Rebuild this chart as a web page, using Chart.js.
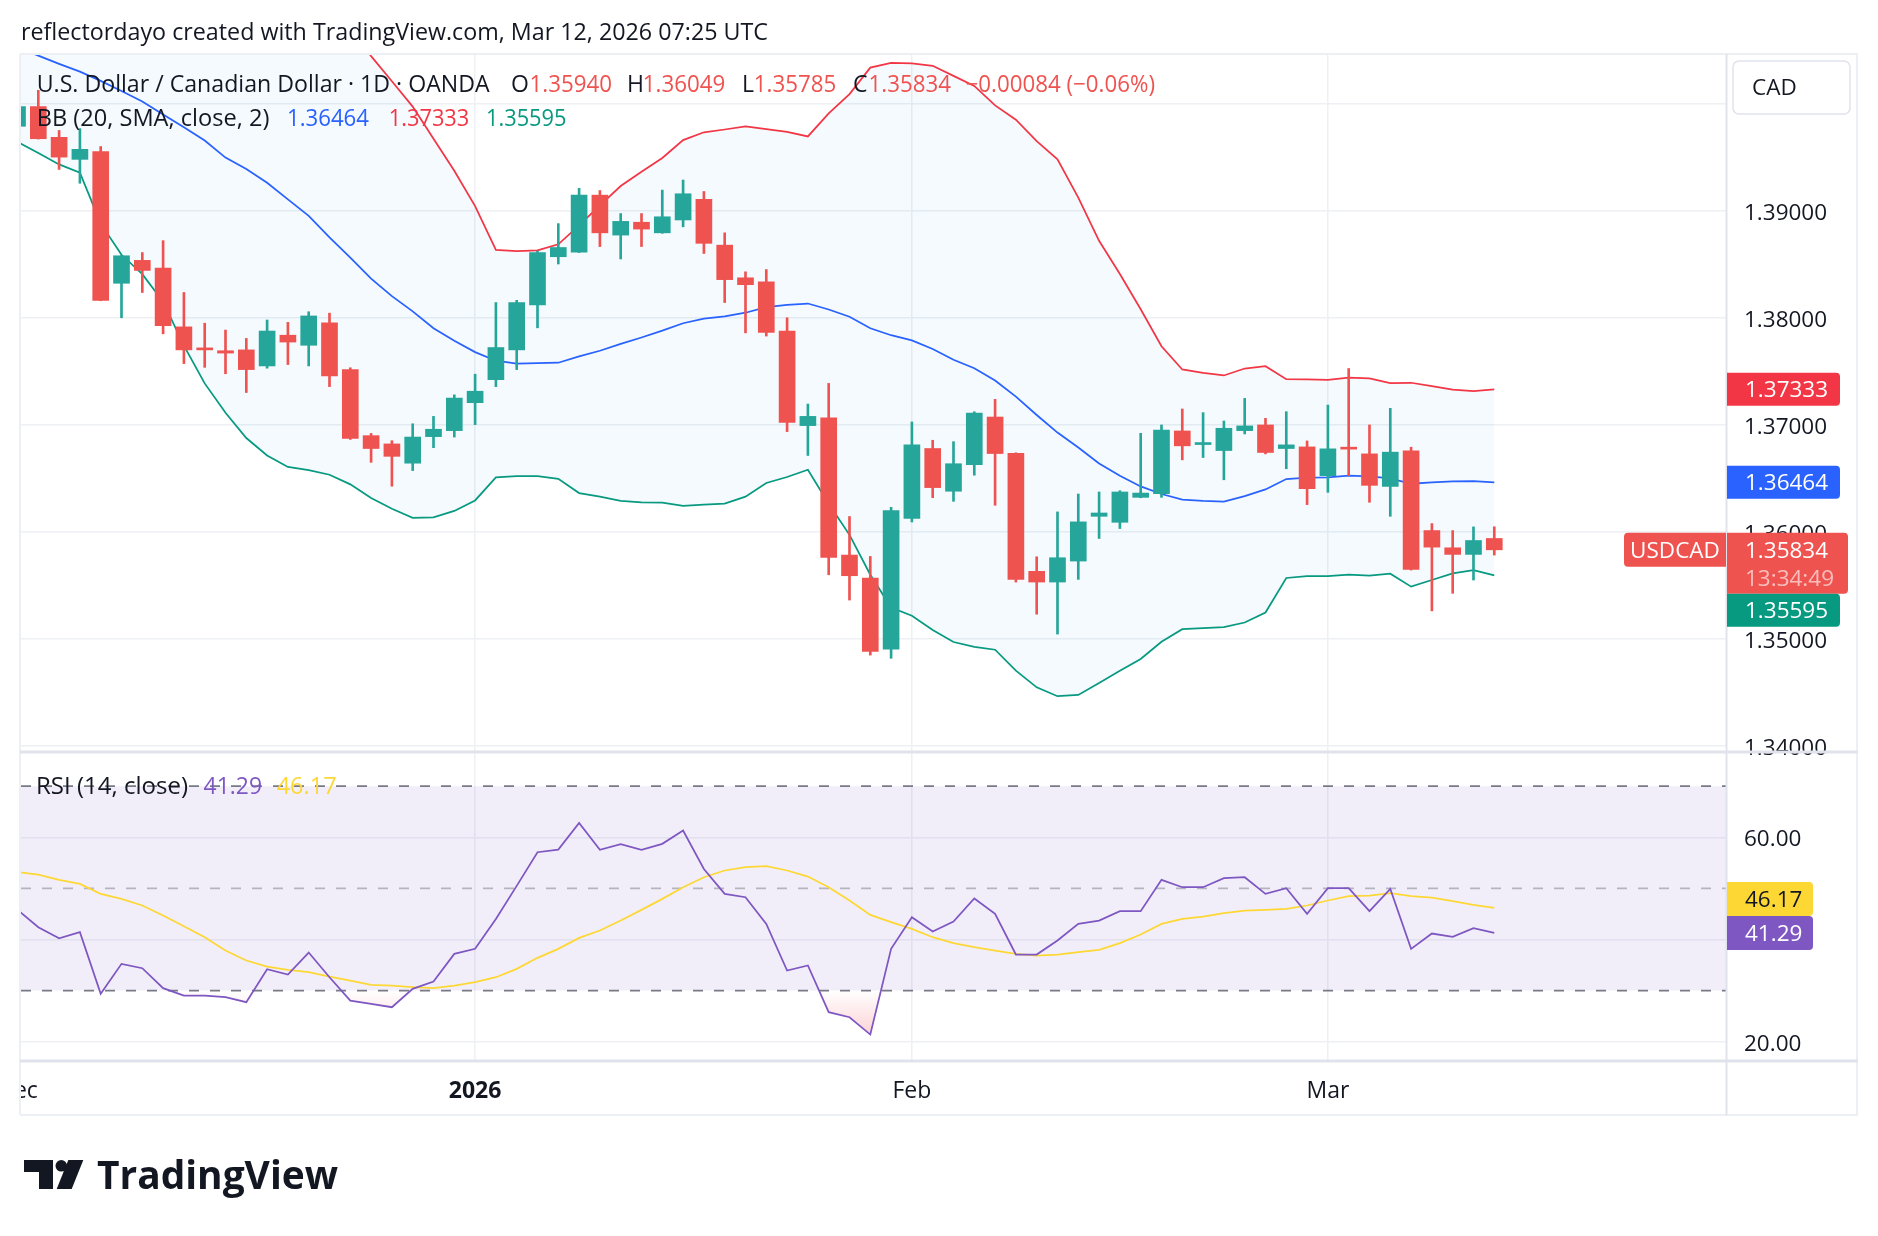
<!DOCTYPE html>
<html>
<head>
<meta charset="utf-8">
<title>USDCAD 1D</title>
<script src="https://cdn.jsdelivr.net/npm/chart.js@4.4.1/dist/chart.umd.min.js"></script>
<style>
  html, body { margin:0; padding:0; background:#ffffff; }
  #wrap { position:relative; width:1878px; height:1236px; overflow:hidden; }
  #c { position:absolute; left:0; top:0; }
  #ov { position:absolute; left:0; top:0; pointer-events:none; }
  #ov text { font-family:'Open Sans', sans-serif; font-size:23px; }
</style>
</head>
<body>
<div id="wrap">
  <canvas id="c" width="1878" height="1236"></canvas>
  <svg id="ov" width="1878" height="1236" viewBox="0 0 1878 1236">
    <text x="21" y="39.5" fill="#131722" textLength="747" lengthAdjust="spacingAndGlyphs">reflectordayo created with TradingView.com, Mar 12, 2026 07:25 UTC</text>

    <text x="36.7" y="92" fill="#131722" textLength="453" lengthAdjust="spacingAndGlyphs">U.S. Dollar / Canadian Dollar · 1D · OANDA</text>
    <text x="511" y="92" fill="#131722">O</text>
    <text x="529.5" y="92" fill="#ef5350" textLength="82.5" lengthAdjust="spacingAndGlyphs">1.35940</text>
    <text x="627" y="92" fill="#131722">H</text>
    <text x="642.8" y="92" fill="#ef5350" textLength="82.5" lengthAdjust="spacingAndGlyphs">1.36049</text>
    <text x="742" y="92" fill="#131722">L</text>
    <text x="753.8" y="92" fill="#ef5350" textLength="82.5" lengthAdjust="spacingAndGlyphs">1.35785</text>
    <text x="853" y="92" fill="#131722">C</text>
    <text x="868.6" y="92" fill="#ef5350" textLength="82.5" lengthAdjust="spacingAndGlyphs">1.35834</text>
    <text x="965.6" y="92" fill="#ef5350" textLength="189.4" lengthAdjust="spacingAndGlyphs">−0.00084 (−0.06%)</text>

    <text x="36.7" y="126" fill="#131722" textLength="232.7" lengthAdjust="spacingAndGlyphs">BB (20, SMA, close, 2)</text>
    <text x="287" y="126" fill="#2962ff" textLength="82" lengthAdjust="spacingAndGlyphs">1.36464</text>
    <text x="388.8" y="126" fill="#f23645" textLength="80.5" lengthAdjust="spacingAndGlyphs">1.37333</text>
    <text x="486" y="126" fill="#089981" textLength="80.5" lengthAdjust="spacingAndGlyphs">1.35595</text>

    <text x="36" y="794" fill="#131722" textLength="152" lengthAdjust="spacingAndGlyphs">RSI (14, close)</text>
    <text x="203.6" y="794" fill="#7e57c2" textLength="58.4" lengthAdjust="spacingAndGlyphs">41.29</text>
    <text x="276.7" y="794" fill="#fdd835" textLength="59.9" lengthAdjust="spacingAndGlyphs">46.17</text>

    <g fill="#131722">
      <path d="M24 1160 H53 V1189 H39 V1172 H24 Z"/>
      <circle cx="61.3" cy="1165.8" r="5.8"/>
      <path d="M68.3 1160 H83.3 L71.7 1189 H56.7 Z"/>
      <text x="97" y="1189" style="font-size:39px;font-weight:700" textLength="241" lengthAdjust="spacingAndGlyphs">TradingView</text>
    </g>
  </svg>
</div>
<script>
// ---------------- data ----------------
const firstIndex = -1; // index of the first (clipped) candle; 0 = first full candle

const opens = [1.39789,1.39973,1.39686,1.39480,1.39553,1.38323,1.38537,1.38464,1.37916,1.37714,1.37693,1.37701,1.37551,1.37838,1.37744,1.37954,1.37517,1.36900,1.36823,1.36643,1.36891,1.36947,1.37208,1.37423,1.37701,1.38121,1.38571,1.38614,1.39146,1.38773,1.38893,1.38794,1.38914,1.39107,1.38679,1.38374,1.38336,1.37877,1.36994,1.37067,1.35785,1.35571,1.34907,1.36128,1.36780,1.36381,1.36630,1.37074,1.36736,1.35633,1.35533,1.35729,1.36147,1.36091,1.36324,1.36358,1.36944,1.36817,1.36761,1.36947,1.37000,1.36780,1.36795,1.36526,1.36783,1.36730,1.36426,1.36758,1.36014,1.35853,1.35791,1.35940];
const highs = [1.40020,1.40125,1.39750,1.39767,1.39600,1.38585,1.38610,1.38721,1.38237,1.37950,1.37886,1.37808,1.37980,1.37958,1.38057,1.38044,1.37534,1.36921,1.36853,1.37011,1.37080,1.37281,1.37474,1.38143,1.38164,1.38623,1.38880,1.39210,1.39189,1.38974,1.38974,1.39193,1.39287,1.39180,1.38794,1.38430,1.38451,1.38001,1.37195,1.37388,1.36145,1.35772,1.36231,1.37028,1.36857,1.36844,1.37123,1.37239,1.36740,1.35769,1.36188,1.36355,1.36374,1.36386,1.36922,1.37000,1.37149,1.37115,1.37037,1.37248,1.37062,1.37124,1.36851,1.37186,1.37527,1.37000,1.37155,1.36792,1.36079,1.36014,1.36048,1.36049];
const lows = [1.39750,1.39670,1.39386,1.39257,1.38160,1.38001,1.38237,1.37851,1.37573,1.37538,1.37478,1.37303,1.37530,1.37564,1.37551,1.37358,1.36865,1.36651,1.36428,1.36574,1.36788,1.36887,1.37003,1.37358,1.37517,1.37907,1.38503,1.38610,1.38666,1.38550,1.38666,1.38790,1.38850,1.38601,1.38143,1.37860,1.37830,1.36938,1.36715,1.35601,1.35365,1.34851,1.34821,1.36094,1.36321,1.36287,1.36531,1.36250,1.35533,1.35233,1.35047,1.35558,1.35940,1.36033,1.36320,1.36324,1.36674,1.36696,1.36488,1.36916,1.36730,1.36591,1.36256,1.36371,1.36526,1.36278,1.36147,1.35645,1.35264,1.35428,1.35552,1.35785];
const closes = [1.39973,1.39673,1.39501,1.39574,1.38164,1.38580,1.38443,1.37928,1.37701,1.37701,1.37671,1.37517,1.37877,1.37774,1.38018,1.37457,1.36874,1.36780,1.36707,1.36887,1.36960,1.37251,1.37315,1.37723,1.38143,1.38610,1.38657,1.39146,1.38794,1.38901,1.38829,1.38944,1.39159,1.38696,1.38357,1.38310,1.37864,1.37024,1.37080,1.35764,1.35592,1.34885,1.36201,1.36814,1.36415,1.36638,1.37110,1.36733,1.35558,1.35533,1.35760,1.36095,1.36178,1.36374,1.36364,1.36953,1.36805,1.36829,1.36969,1.36991,1.36743,1.36814,1.36405,1.36777,1.36774,1.36436,1.36746,1.35651,1.35859,1.35791,1.35921,1.35834];

const bbUpper = [1.4180,1.4178,1.4175,1.4172,1.4170,1.4168,1.4165,1.4160,1.4155,1.4150,1.4143,1.4135,1.4125,1.4115,1.4100,1.4088,1.4072,1.40444,1.40209,1.39973,1.39673,1.39373,1.39043,1.38634,1.38623,1.38631,1.38687,1.38863,1.39051,1.39231,1.39364,1.39493,1.39660,1.39733,1.39759,1.39789,1.39763,1.39737,1.39694,1.39909,1.40089,1.40337,1.40380,1.40376,1.40354,1.40260,1.40166,1.39984,1.39850,1.39650,1.39480,1.39123,1.38720,1.38410,1.38080,1.37735,1.37518,1.37487,1.37462,1.37527,1.37549,1.37428,1.37425,1.37422,1.37443,1.37434,1.37391,1.37394,1.37363,1.37329,1.37316,1.37333];
const bbBasis = [1.40526,1.40449,1.40372,1.40299,1.40213,1.40119,1.40020,1.39900,1.39780,1.39656,1.39497,1.39390,1.39261,1.39107,1.38953,1.38751,1.38563,1.38366,1.38203,1.38061,1.37903,1.37787,1.37680,1.37600,1.37573,1.37577,1.37581,1.37641,1.37693,1.37757,1.37817,1.37881,1.37950,1.37993,1.38014,1.38048,1.38100,1.38121,1.38134,1.38078,1.38010,1.37903,1.37838,1.37790,1.37710,1.37609,1.37530,1.37415,1.37264,1.37093,1.36929,1.36789,1.36640,1.36526,1.36426,1.36355,1.36302,1.36290,1.36284,1.36336,1.36398,1.36495,1.36507,1.36510,1.36526,1.36519,1.36501,1.36451,1.36464,1.36473,1.36476,1.36464];
const bbLower = [1.39643,1.39540,1.39433,1.39356,1.38880,1.38589,1.38408,1.38151,1.37740,1.37388,1.37114,1.36878,1.36715,1.36608,1.36578,1.36535,1.36445,1.36317,1.36218,1.36132,1.36137,1.36197,1.36295,1.36510,1.36522,1.36522,1.36497,1.36364,1.36330,1.36291,1.36278,1.36274,1.36244,1.36257,1.36265,1.36330,1.36458,1.36514,1.36582,1.36265,1.35974,1.35601,1.35295,1.35219,1.35085,1.34973,1.34927,1.34901,1.34705,1.34550,1.34467,1.34479,1.34591,1.34705,1.34814,1.34975,1.35093,1.35102,1.35112,1.35155,1.35248,1.35571,1.35589,1.35589,1.35602,1.35592,1.35611,1.35490,1.35552,1.35614,1.35645,1.35595];

const rsi = [45.8,42.4,40.25,41.43,29.36,35.23,34.38,30.47,29.03,29.03,28.71,27.73,34.19,33.14,37.45,32.62,28.05,27.40,26.75,30.34,31.77,37.19,38.17,44.0,50.5,57.08,57.6,62.82,57.54,58.65,57.54,58.72,61.32,53.8,48.93,48.28,43.06,33.93,34.91,25.77,24.79,21.40,38.17,44.37,41.56,43.52,48.02,45.02,37.06,37.06,39.80,43.06,43.71,45.54,45.54,51.67,50.23,50.23,52.0,52.19,48.93,50.04,45.02,50.04,50.04,45.54,49.91,38.17,41.17,40.52,42.21,41.29];
const rsiMA = [53.17,52.71,51.67,50.89,48.93,47.95,46.65,44.69,42.60,40.45,37.84,35.88,34.71,34.06,33.60,32.75,31.97,31.12,30.99,30.67,30.47,30.99,31.64,32.62,34.25,36.41,38.17,40.32,41.76,43.71,45.80,47.95,50.23,52.19,53.50,54.15,54.34,53.50,52.32,50.23,47.63,44.82,43.39,42.08,40.45,39.28,38.49,37.84,37.19,36.86,37.06,37.51,37.97,39.28,40.97,43.06,44.04,44.49,45.15,45.67,45.80,45.99,46.65,47.63,48.47,48.60,49.06,48.47,48.21,47.50,46.78,46.17];

const rsiLevels = [70, 50, 30];
const priceTicks = [1.34, 1.35, 1.36, 1.37, 1.38, 1.39, 1.40];
const rsiTicks = [20, 40, 60];
const timeTickIdx = [-1, 21, 42, 62];
const timeTickLabels = ['Dec', '2026', 'Feb', 'Mar'];
const boldTimeLabel = '2026';
const lastClose = 1.35834, lastUpper = 1.37333, lastBasis = 1.36464, lastLower = 1.35595;
const lastRsi = 41.29, lastRsiMA = 46.17;
const countdown = '13:34:49';
const symbolTag = 'USDCAD';
const currencyLabel = 'CAD';

// ---------------- styling / layout ----------------
const FONT = "'Open Sans', sans-serif";
const TEXT = '#131722';
const GRID = '#eef0f3';
const UP = '#26a69a', DOWN = '#ef5350';
const X_MIN = -0.88, X_MAX = 81.14;
const P_MIN = 1.33946, P_MAX = 1.40464;
const R_MIN = 16.42, R_MAX = 76.69;

const xIdx = closes.map((_, i) => firstIndex + i);
const pts = arr => arr.map((v, i) => ({ x: xIdx[i], y: v }));
const candleColors = closes.map((c, i) => c >= opens[i] ? UP : DOWN);
const levelLine = v => [{ x: X_MIN - 5, y: v }, { x: X_MAX + 5, y: v }];

function oversoldFill(ctx) {
  const ch = ctx.chart, s = ch.scales && ch.scales.yR;
  const fallback = 'rgba(242,54,69,0.12)';
  if (!s || !ch.chartArea) return fallback;
  const y30 = s.getPixelForValue(30), y20 = s.getPixelForValue(20);
  if (!isFinite(y30) || !isFinite(y20) || y30 === y20) return fallback;
  const g = ch.ctx.createLinearGradient(0, y30, 0, y20);
  g.addColorStop(0, 'rgba(242,54,69,0)');
  g.addColorStop(1, 'rgba(242,54,69,0.26)');
  return g;
}

const deco = {
  id: 'deco',
  afterDraw(chart) {
    const { ctx, chartArea: a, scales } = chart;
    const yP = scales.yP, yR = scales.yR, xS = scales.x;
    const R = yP.right, B = xS.bottom;
    ctx.save();
    // the time label left of the plot is clipped by the pane edge
    ctx.fillStyle = '#ffffff';
    ctx.fillRect(0, a.bottom + 2, a.left, B - a.bottom);

    const hl = (x1, x2, y, w, c) => { ctx.beginPath(); ctx.strokeStyle = c; ctx.lineWidth = w; ctx.moveTo(x1, y); ctx.lineTo(x2, y); ctx.stroke(); };
    const vl = (x, y1, y2, w, c) => { ctx.beginPath(); ctx.strokeStyle = c; ctx.lineWidth = w; ctx.moveTo(x, y1); ctx.lineTo(x, y2); ctx.stroke(); };
    const frame = '#eceff3', sep = '#e0e3eb';
    hl(a.left, R + 2, a.top, 2, frame);
    hl(a.left, R + 2, B + 1, 2, frame);
    vl(a.left, a.top, B + 1, 2, frame);
    vl(R + 1, a.top, B + 1, 2, frame);
    hl(a.left, R + 2, yR.top, 3, sep);
    hl(a.left, R + 2, a.bottom + 1, 3, sep);
    vl(a.right + 0.5, a.top, B + 1, 2, sep);

    // currency box
    ctx.beginPath();
    ctx.lineWidth = 1.5; ctx.strokeStyle = '#e0e3eb'; ctx.fillStyle = '#ffffff';
    ctx.roundRect(a.right + 7, a.top + 7, 117, 53, 6);
    ctx.fill(); ctx.stroke();
    ctx.fillStyle = TEXT; ctx.font = '22.5px ' + FONT; ctx.textBaseline = 'middle'; ctx.textAlign = 'left';
    ctx.fillText(currencyLabel, a.right + 26, a.top + 35);

    const TX = a.right + 19;
    const place = (list) => {
      const placed = [];
      list.filter(t => t.fixed).forEach(t => { t.top = t.y - t.off; placed.push(t); });
      list.filter(t => !t.fixed).sort((p, q) => p.y - q.y).forEach(t => {
        t.top = t.y - t.off;
        for (let k = 0; k < 4; k++) {
          for (const p of placed) {
            if (t.top < p.top + p.h && t.top + t.h > p.top) {
              t.top = (t.y >= p.y) ? p.top + p.h : p.top - t.h;
            }
          }
        }
        placed.push(t);
      });
    };
    const draw = (t) => {
      ctx.beginPath(); ctx.fillStyle = t.bg;
      ctx.roundRect(t.x, t.top, t.w, t.h, t.r); ctx.fill();
      ctx.font = '22.5px ' + FONT; ctx.textBaseline = 'middle';
      ctx.textAlign = t.align || 'left';
      ctx.fillStyle = t.fg;
      ctx.fillText(t.text, t.tx, t.top + t.off + 1.5);
      if (t.text2) { ctx.fillStyle = t.fg2; ctx.fillText(t.text2, t.tx, t.top + t.off + 29.5); }
    };
    const px = a.right + 1;
    const priceTags = [
      { y: yP.getPixelForValue(lastClose), off: 17, h: 61, w: 121, fixed: true, bg: '#ef5350', fg: '#ffffff', text: lastClose.toFixed(5), text2: countdown, fg2: 'rgba(255,255,255,0.62)' },
      { y: yP.getPixelForValue(lastUpper), off: 16.5, h: 33, w: 113, bg: '#f23645', fg: '#ffffff', text: lastUpper.toFixed(5) },
      { y: yP.getPixelForValue(lastBasis), off: 16.5, h: 33, w: 113, bg: '#2962ff', fg: '#ffffff', text: lastBasis.toFixed(5) },
      { y: yP.getPixelForValue(lastLower), off: 16.5, h: 33, w: 113, bg: '#089981', fg: '#ffffff', text: lastLower.toFixed(5) }
    ];
    priceTags.forEach(t => { t.x = px; t.tx = TX; t.r = [0, 4, 4, 0]; });
    place(priceTags);
    priceTags.forEach(draw);
    const closeTag = priceTags[0];
    draw({ x: a.right - 102, top: closeTag.top, w: 102, h: 34, off: 17, r: [4, 0, 0, 4], bg: '#ef5350', fg: '#ffffff', text: symbolTag, tx: a.right - 51, align: 'center' });

    const rsiTags = [
      { y: yR.getPixelForValue(lastRsi), off: 17, h: 34, w: 86, fixed: true, bg: '#7e57c2', fg: '#ffffff', text: lastRsi.toFixed(2) },
      { y: yR.getPixelForValue(lastRsiMA), off: 17, h: 34, w: 86, bg: '#fdd835', fg: TEXT, text: lastRsiMA.toFixed(2) }
    ];
    rsiTags.forEach(t => { t.x = px; t.tx = TX; t.r = [0, 4, 4, 0]; });
    place(rsiTags);
    rsiTags.forEach(draw);
    ctx.restore();
  }
};

function build() {
  const datasets = [
    { type: 'bar', label: 'body', data: xIdx.map((x, i) => ({ x, y: [opens[i], closes[i]] })),
      backgroundColor: candleColors, barThickness: 16, minBarLength: 2, grouped: false,
      xAxisID: 'x', yAxisID: 'yP', order: 0 },
    { type: 'bar', label: 'wick', data: xIdx.map((x, i) => ({ x, y: [lows[i], highs[i]] })),
      backgroundColor: candleColors, barThickness: 2, grouped: false,
      xAxisID: 'x', yAxisID: 'yP', order: 1 },
    { type: 'line', label: 'BB upper', data: pts(bbUpper), borderColor: '#f23645', borderWidth: 1.75,
      pointRadius: 0, fill: 4, backgroundColor: 'rgba(33,150,243,0.05)', xAxisID: 'x', yAxisID: 'yP', order: 6 },
    { type: 'line', label: 'BB basis', data: pts(bbBasis), borderColor: '#2962ff', borderWidth: 1.75,
      pointRadius: 0, fill: false, xAxisID: 'x', yAxisID: 'yP', order: 4 },
    { type: 'line', label: 'BB lower', data: pts(bbLower), borderColor: '#089981', borderWidth: 1.75,
      pointRadius: 0, fill: false, xAxisID: 'x', yAxisID: 'yP', order: 4 },
    { type: 'line', label: 'RSI upper band', data: levelLine(rsiLevels[0]), borderColor: '#787b86', borderWidth: 1.75,
      borderDash: [10, 11], pointRadius: 0, fill: 7, backgroundColor: 'rgba(126,87,194,0.1)', xAxisID: 'x', yAxisID: 'yR', order: 9 },
    { type: 'line', label: 'RSI middle band', data: levelLine(rsiLevels[1]), borderColor: 'rgba(120,123,134,0.5)', borderWidth: 1.75,
      borderDash: [10, 11], pointRadius: 0, fill: false, xAxisID: 'x', yAxisID: 'yR', order: 8 },
    { type: 'line', label: 'RSI lower band', data: levelLine(rsiLevels[2]), borderColor: '#787b86', borderWidth: 1.75,
      borderDash: [10, 11], pointRadius: 0, fill: false, xAxisID: 'x', yAxisID: 'yR', order: 8 },
    { type: 'line', label: 'RSI', data: pts(rsi), borderColor: '#7e57c2', borderWidth: 1.75, pointRadius: 0,
      fill: { target: { value: 30 }, above: 'rgba(0,0,0,0)' }, backgroundColor: oversoldFill,
      xAxisID: 'x', yAxisID: 'yR', order: 3 },
    { type: 'line', label: 'RSI-based MA', data: pts(rsiMA), borderColor: '#fdd835', borderWidth: 1.75, pointRadius: 0,
      fill: false, xAxisID: 'x', yAxisID: 'yR', order: 3 }
  ];

  new Chart(document.getElementById('c'), {
    type: 'bar',
    data: { datasets },
    options: {
      responsive: false, animation: false, devicePixelRatio: 1, events: [],
      layout: { padding: { left: 20, top: 54, right: 22, bottom: 122 } },
      plugins: { legend: { display: false }, tooltip: { enabled: false } },
      elements: { line: { tension: 0 }, bar: { borderWidth: 0 } },
      scales: {
        x: {
          type: 'linear', position: 'bottom', min: X_MIN, max: X_MAX, offset: false,
          border: { display: false },
          grid: { offset: false, drawTicks: false, lineWidth: 1.5, color: c => (c.tick && c.tick.value < X_MIN) ? 'rgba(0,0,0,0)' : GRID },
          ticks: {
            autoSkip: false, maxRotation: 0, padding: 17.5, color: TEXT,
            font: c => ({ family: FONT, size: 23, weight: (c.tick && timeTickLabels[timeTickIdx.indexOf(c.tick.value)] === boldTimeLabel) ? '700' : '400' }),
            callback: v => { const k = timeTickIdx.indexOf(v); return k >= 0 ? timeTickLabels[k] : ''; }
          },
          afterBuildTicks: s => { s.ticks = timeTickIdx.map(v => ({ value: v })); },
          afterFit: s => { s.height = 54; s.paddingLeft = 0; s.paddingRight = 0; }
        },
        yP: {
          type: 'linear', position: 'right', stack: 'panes', stackWeight: 698, min: P_MIN, max: P_MAX,
          border: { display: false },
          grid: { drawTicks: false, color: GRID, lineWidth: 1.5 },
          ticks: { padding: 18, labelOffset: 2.5, color: TEXT, font: { family: FONT, size: 22.5 },
                   callback: v => Math.abs(v - 1.40) < 1e-9 ? '' : Number(v).toFixed(5) },
          afterBuildTicks: s => { s.ticks = priceTicks.map(v => ({ value: v })); },
          afterFit: s => { s.width = 130; s.paddingTop = 0; s.paddingBottom = 0; }
        },
        yR: {
          type: 'linear', position: 'right', stack: 'panes', stackWeight: 308, min: R_MIN, max: R_MAX,
          border: { display: false },
          grid: { drawTicks: false, color: GRID, lineWidth: 1.5 },
          ticks: { padding: 18, labelOffset: 2.5, color: TEXT, font: { family: FONT, size: 22.5 },
                   callback: v => v === 40 ? '' : Number(v).toFixed(2) },
          afterBuildTicks: s => { s.ticks = rsiTicks.map(v => ({ value: v })); },
          afterFit: s => { s.width = 130; s.paddingTop = 0; s.paddingBottom = 0; }
        }
      }
    },
    plugins: [deco]
  });
}

if (document.fonts && document.fonts.load) {
  Promise.all([
    document.fonts.load("23px 'Open Sans'"),
    document.fonts.load("bold 23px 'Open Sans'")
  ]).then(build, build);
} else {
  build();
}
</script>
</body>
</html>
